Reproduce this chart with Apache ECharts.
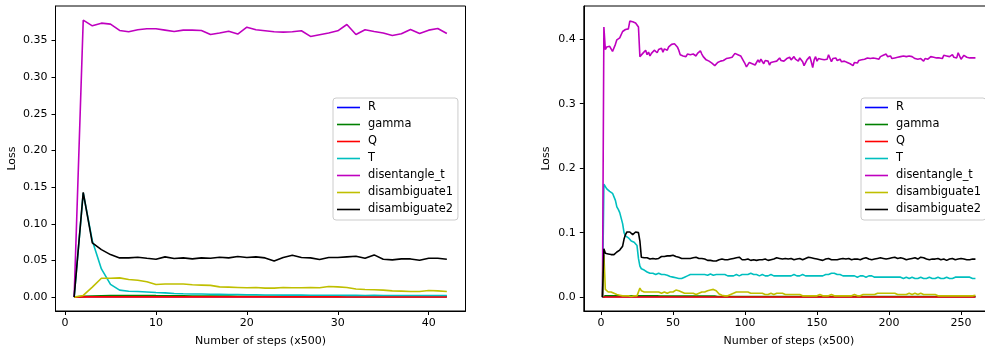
<!DOCTYPE html>
<html>
<head>
<meta charset="utf-8">
<script src="https://cdn.jsdelivr.net/npm/echarts@6/dist/echarts.min.js"></script>
<style>
  html, body { margin: 0; padding: 0; background: #fff; }
  #main { width: 985px; height: 350px; }
</style>
</head>
<body>
<div id="main"></div>
<script>
// series names / colours (matplotlib b g r c m y k)
var seriesNames = ['R', 'gamma', 'Q', 'T', 'disentangle_t', 'disambiguate1', 'disambiguate2'];
var seriesColors = ['#0000ff', '#008000', '#ff0000', '#00bfbf', '#bf00bf', '#bfbf00', '#000000'];

// tick values and labels
var leftXTicks = [0, 10, 20, 30, 40];
var leftXLabels = ['0', '10', '20', '30', '40'];
var leftYTicks = [0, 0.05, 0.10, 0.15, 0.20, 0.25, 0.30, 0.35];
var leftYLabels = ['0.00', '0.05', '0.10', '0.15', '0.20', '0.25', '0.30', '0.35'];
var rightXTicks = [0, 50, 100, 150, 200, 250];
var rightXLabels = ['0', '50', '100', '150', '200', '250'];
var rightYTicks = [0, 0.1, 0.2, 0.3, 0.4];
var rightYLabels = ['0.0', '0.1', '0.2', '0.3', '0.4'];

// left run, one value per step (x500), steps 1..42
var rLeft = [0, 0.0005, 0.0005, 0.0005, 0.0005, 0.0005, 0.0005, 0.0005, 0.0005, 0.0005, 0.0005, 0.0005, 0.0005, 0.0005, 0.0005, 0.0005, 0.0005, 0.0005, 0.0005, 0.0005, 0.0005, 0.0005, 0.0005, 0.0005, 0.0005, 0.0005, 0.0005, 0.0005, 0.0005, 0.0005, 0.0005, 0.0005, 0.0005, 0.0005, 0.0005, 0.0005, 0.0005, 0.0005, 0.0005, 0.0005, 0.0005, 0.0005];
var gammaLeft = [0, 0.001, 0.0015, 0.0018, 0.002, 0.0021, 0.0022, 0.0023, 0.0022, 0.002, 0.0019, 0.0018, 0.0017, 0.0016, 0.0015, 0.0015, 0.0014, 0.0014, 0.0013, 0.0013, 0.0012, 0.0012, 0.0011, 0.0011, 0.001, 0.001, 0.001, 0.001, 0.001, 0.001, 0.001, 0.001, 0.001, 0.001, 0.001, 0.001, 0.001, 0.001, 0.001, 0.001, 0.001, 0.001];
var qLeft = [0, 0.0003, 0.0003, 0.0003, 0.0003, 0.0003, 0.0003, 0.0003, 0.0003, 0.0003, 0.0003, 0.0003, 0.0003, 0.0003, 0.0003, 0.0003, 0.0003, 0.0003, 0.0003, 0.0003, 0.0003, 0.0003, 0.0003, 0.0003, 0.0003, 0.0003, 0.0003, 0.0003, 0.0003, 0.0003, 0.0003, 0.0003, 0.0003, 0.0003, 0.0003, 0.0003, 0.0003, 0.0003, 0.0003, 0.0003, 0.0003, 0.0003];
var tLeft = [0, 0.142, 0.077, 0.0385, 0.0175, 0.0095, 0.008, 0.0077, 0.007, 0.0063, 0.0058, 0.005, 0.0046, 0.0043, 0.0042, 0.004, 0.0038, 0.0036, 0.0035, 0.0033, 0.0032, 0.003, 0.0029, 0.0028, 0.0028, 0.0027, 0.0026, 0.0026, 0.0025, 0.0025, 0.0024, 0.0024, 0.0023, 0.0024, 0.0023, 0.0023, 0.0022, 0.0023, 0.0022, 0.0022, 0.0023, 0.0022];
var disLeft = [0, 0.3776, 0.3699, 0.3735, 0.3722, 0.3636, 0.3617, 0.3645, 0.3658, 0.3658, 0.364, 0.3622, 0.364, 0.364, 0.3636, 0.3581, 0.36, 0.3626, 0.3586, 0.368, 0.3645, 0.3631, 0.3617, 0.3613, 0.3617, 0.3631, 0.3554, 0.3577, 0.36, 0.3631, 0.3717, 0.3581, 0.3645, 0.3622, 0.36, 0.3568, 0.359, 0.3649, 0.3595, 0.364, 0.3663, 0.3595];
var d1Left = [0, 0.0023, 0.0136, 0.0258, 0.0258, 0.0263, 0.024, 0.0231, 0.0209, 0.0173, 0.018, 0.018, 0.018, 0.0168, 0.0164, 0.016, 0.014, 0.0136, 0.0132, 0.0127, 0.0132, 0.0123, 0.0123, 0.0132, 0.0127, 0.0127, 0.0132, 0.0127, 0.0145, 0.014, 0.0132, 0.011, 0.0104, 0.01, 0.0095, 0.0086, 0.0082, 0.0077, 0.0077, 0.0091, 0.0086, 0.0077];
var d2Left = [0, 0.1428, 0.0739, 0.0648, 0.058, 0.0535, 0.0535, 0.0544, 0.053, 0.0517, 0.0549, 0.0526, 0.0535, 0.0521, 0.0535, 0.053, 0.0544, 0.0535, 0.0553, 0.054, 0.0549, 0.0535, 0.0494, 0.054, 0.0571, 0.054, 0.0535, 0.0512, 0.054, 0.054, 0.0549, 0.0558, 0.053, 0.0576, 0.0517, 0.0508, 0.0521, 0.0521, 0.0503, 0.053, 0.053, 0.0517];

// right run, steps 1..260
var rRight = [
  0, 0.0005, 0.0005, 0.0005, 0.0005, 0.0005, 0.0005, 0.0005, 0.0005, 0.0005,
  0.0005, 0.0005, 0.0005, 0.0005, 0.0005, 0.0005, 0.0005, 0.0005, 0.0005, 0.0005,
  0.0005, 0.0005, 0.0005, 0.0005, 0.0005, 0.0005, 0.0005, 0.0005, 0.0005, 0.0005,
  0.0005, 0.0005, 0.0005, 0.0005, 0.0005, 0.0005, 0.0005, 0.0005, 0.0005, 0.0005,
  0.0005, 0.0005, 0.0005, 0.0005, 0.0005, 0.0005, 0.0005, 0.0005, 0.0005, 0.0005,
  0.0005, 0.0005, 0.0005, 0.0005, 0.0005, 0.0005, 0.0005, 0.0005, 0.0005, 0.0005,
  0.0005, 0.0005, 0.0005, 0.0005, 0.0005, 0.0005, 0.0005, 0.0005, 0.0005, 0.0005,
  0.0005, 0.0005, 0.0005, 0.0005, 0.0005, 0.0005, 0.0005, 0.0005, 0.0005, 0.0005,
  0.0005, 0.0005, 0.0005, 0.0005, 0.0005, 0.0005, 0.0005, 0.0005, 0.0005, 0.0005,
  0.0005, 0.0005, 0.0005, 0.0005, 0.0005, 0.0005, 0.0005, 0.0005, 0.0005, 0.0005,
  0.0005, 0.0005, 0.0005, 0.0005, 0.0005, 0.0005, 0.0005, 0.0005, 0.0005, 0.0005,
  0.0005, 0.0005, 0.0005, 0.0005, 0.0005, 0.0005, 0.0005, 0.0005, 0.0005, 0.0005,
  0.0005, 0.0005, 0.0005, 0.0005, 0.0005, 0.0005, 0.0005, 0.0005, 0.0005, 0.0005,
  0.0005, 0.0005, 0.0005, 0.0005, 0.0005, 0.0005, 0.0005, 0.0005, 0.0005, 0.0005,
  0.0005, 0.0005, 0.0005, 0.0005, 0.0005, 0.0005, 0.0005, 0.0005, 0.0005, 0.0005,
  0.0005, 0.0005, 0.0005, 0.0005, 0.0005, 0.0005, 0.0005, 0.0005, 0.0005, 0.0005,
  0.0005, 0.0005, 0.0005, 0.0005, 0.0005, 0.0005, 0.0005, 0.0005, 0.0005, 0.0005,
  0.0005, 0.0005, 0.0005, 0.0005, 0.0005, 0.0005, 0.0005, 0.0005, 0.0005, 0.0005,
  0.0005, 0.0005, 0.0005, 0.0005, 0.0005, 0.0005, 0.0005, 0.0005, 0.0005, 0.0005,
  0.0005, 0.0005, 0.0005, 0.0005, 0.0005, 0.0005, 0.0005, 0.0005, 0.0005, 0.0005,
  0.0005, 0.0005, 0.0005, 0.0005, 0.0005, 0.0005, 0.0005, 0.0005, 0.0005, 0.0005,
  0.0005, 0.0005, 0.0005, 0.0005, 0.0005, 0.0005, 0.0005, 0.0005, 0.0005, 0.0005,
  0.0005, 0.0005, 0.0005, 0.0005, 0.0005, 0.0005, 0.0005, 0.0005, 0.0005, 0.0005,
  0.0005, 0.0005, 0.0005, 0.0005, 0.0005, 0.0005, 0.0005, 0.0005, 0.0005, 0.0005,
  0.0005, 0.0005, 0.0005, 0.0005, 0.0005, 0.0005, 0.0005, 0.0005, 0.0005, 0.0005,
  0.0005, 0.0005, 0.0005, 0.0005, 0.0005, 0.0005, 0.0005, 0.0005, 0.0005, 0.0005
];
var gammaRight = [
  0, 0.003, 0.002, 0.002, 0.002, 0.002, 0.002, 0.002, 0.002, 0.002,
  0.002, 0.002, 0.002, 0.002, 0.002, 0.002, 0.002, 0.002, 0.002, 0.002,
  0.002, 0.002, 0.002, 0.002, 0.002, 0.002, 0.002, 0.002, 0.002, 0.002,
  0.002, 0.002, 0.002, 0.002, 0.002, 0.002, 0.002, 0.002, 0.002, 0.002,
  0.0015, 0.0015, 0.0015, 0.0015, 0.0015, 0.0015, 0.0015, 0.0015, 0.0015, 0.0015,
  0.0015, 0.0015, 0.0015, 0.0015, 0.0015, 0.0015, 0.0015, 0.0015, 0.0015, 0.0015,
  0.0015, 0.0015, 0.0015, 0.0015, 0.0015, 0.0015, 0.0015, 0.0015, 0.0015, 0.0015,
  0.0015, 0.0015, 0.0015, 0.0015, 0.0015, 0.0015, 0.0015, 0.0015, 0.0015, 0.0015,
  0.001, 0.001, 0.001, 0.001, 0.001, 0.001, 0.001, 0.001, 0.001, 0.001,
  0.001, 0.001, 0.001, 0.001, 0.001, 0.001, 0.001, 0.001, 0.001, 0.001,
  0.001, 0.001, 0.001, 0.001, 0.001, 0.001, 0.001, 0.001, 0.001, 0.001,
  0.001, 0.001, 0.001, 0.001, 0.001, 0.001, 0.001, 0.001, 0.001, 0.001,
  0.001, 0.001, 0.001, 0.001, 0.001, 0.001, 0.001, 0.001, 0.001, 0.001,
  0.001, 0.001, 0.001, 0.001, 0.001, 0.001, 0.001, 0.001, 0.001, 0.001,
  0.001, 0.001, 0.001, 0.001, 0.001, 0.001, 0.001, 0.001, 0.001, 0.001,
  0.001, 0.001, 0.001, 0.001, 0.001, 0.001, 0.001, 0.001, 0.001, 0.001,
  0.001, 0.001, 0.001, 0.001, 0.001, 0.001, 0.001, 0.001, 0.001, 0.001,
  0.001, 0.001, 0.001, 0.001, 0.001, 0.001, 0.001, 0.001, 0.001, 0.001,
  0.001, 0.001, 0.001, 0.001, 0.001, 0.001, 0.001, 0.001, 0.001, 0.001,
  0.001, 0.001, 0.001, 0.001, 0.001, 0.001, 0.001, 0.001, 0.001, 0.001,
  0.001, 0.001, 0.001, 0.001, 0.001, 0.001, 0.001, 0.001, 0.001, 0.001,
  0.001, 0.001, 0.001, 0.001, 0.001, 0.001, 0.001, 0.001, 0.001, 0.001,
  0.001, 0.001, 0.001, 0.001, 0.001, 0.001, 0.001, 0.001, 0.001, 0.001,
  0.001, 0.001, 0.001, 0.001, 0.001, 0.001, 0.001, 0.001, 0.001, 0.001,
  0.001, 0.001, 0.001, 0.001, 0.001, 0.001, 0.001, 0.001, 0.001, 0.001,
  0.001, 0.001, 0.001, 0.001, 0.001, 0.001, 0.001, 0.001, 0.001, 0.001
];
var qRight = [
  0, 0.0003, 0.0003, 0.0003, 0.0003, 0.0003, 0.0003, 0.0003, 0.0003, 0.0003,
  0.0003, 0.0003, 0.0003, 0.0003, 0.0003, 0.0003, 0.0003, 0.0003, 0.0003, 0.0003,
  0.0003, 0.0003, 0.0003, 0.0003, 0.0003, 0.0003, 0.0003, 0.0003, 0.0003, 0.0003,
  0.0003, 0.0003, 0.0003, 0.0003, 0.0003, 0.0003, 0.0003, 0.0003, 0.0003, 0.0003,
  0.0003, 0.0003, 0.0003, 0.0003, 0.0003, 0.0003, 0.0003, 0.0003, 0.0003, 0.0003,
  0.0003, 0.0003, 0.0003, 0.0003, 0.0003, 0.0003, 0.0003, 0.0003, 0.0003, 0.0003,
  0.0003, 0.0003, 0.0003, 0.0003, 0.0003, 0.0003, 0.0003, 0.0003, 0.0003, 0.0003,
  0.0003, 0.0003, 0.0003, 0.0003, 0.0003, 0.0003, 0.0003, 0.0003, 0.0003, 0.0003,
  0.0003, 0.0003, 0.0003, 0.0003, 0.0003, 0.0003, 0.0003, 0.0003, 0.0003, 0.0003,
  0.0003, 0.0003, 0.0003, 0.0003, 0.0003, 0.0003, 0.0003, 0.0003, 0.0003, 0.0003,
  0.0003, 0.0003, 0.0003, 0.0003, 0.0003, 0.0003, 0.0003, 0.0003, 0.0003, 0.0003,
  0.0003, 0.0003, 0.0003, 0.0003, 0.0003, 0.0003, 0.0003, 0.0003, 0.0003, 0.0003,
  0.0003, 0.0003, 0.0003, 0.0003, 0.0003, 0.0003, 0.0003, 0.0003, 0.0003, 0.0003,
  0.0003, 0.0003, 0.0003, 0.0003, 0.0003, 0.0003, 0.0003, 0.0003, 0.0003, 0.0003,
  0.0003, 0.0003, 0.0003, 0.0003, 0.0003, 0.0003, 0.0003, 0.0003, 0.0003, 0.0003,
  0.0003, 0.0003, 0.0003, 0.0003, 0.0003, 0.0003, 0.0003, 0.0003, 0.0003, 0.0003,
  0.0003, 0.0003, 0.0003, 0.0003, 0.0003, 0.0003, 0.0003, 0.0003, 0.0003, 0.0003,
  0.0003, 0.0003, 0.0003, 0.0003, 0.0003, 0.0003, 0.0003, 0.0003, 0.0003, 0.0003,
  0.0003, 0.0003, 0.0003, 0.0003, 0.0003, 0.0003, 0.0003, 0.0003, 0.0003, 0.0003,
  0.0003, 0.0003, 0.0003, 0.0003, 0.0003, 0.0003, 0.0003, 0.0003, 0.0003, 0.0003,
  0.0003, 0.0003, 0.0003, 0.0003, 0.0003, 0.0003, 0.0003, 0.0003, 0.0003, 0.0003,
  0.0003, 0.0003, 0.0003, 0.0003, 0.0003, 0.0003, 0.0003, 0.0003, 0.0003, 0.0003,
  0.0003, 0.0003, 0.0003, 0.0003, 0.0003, 0.0003, 0.0003, 0.0003, 0.0003, 0.0003,
  0.0003, 0.0003, 0.0003, 0.0003, 0.0003, 0.0003, 0.0003, 0.0003, 0.0003, 0.0003,
  0.0003, 0.0003, 0.0003, 0.0003, 0.0003, 0.0003, 0.0003, 0.0003, 0.0003, 0.0003,
  0.0003, 0.0003, 0.0003, 0.0003, 0.0003, 0.0003, 0.0003, 0.0003, 0.0003, 0.0003
];
var tRight = [
  0, 0.175, 0.172, 0.168, 0.166, 0.164, 0.162, 0.161, 0.160, 0.150,
  0.140, 0.136, 0.131, 0.128, 0.114, 0.100, 0.095, 0.093, 0.092, 0.090,
  0.087, 0.086, 0.085, 0.083, 0.080, 0.060, 0.048, 0.044, 0.043, 0.042,
  0.041, 0.039, 0.038, 0.037, 0.036, 0.037, 0.036, 0.035, 0.036, 0.037,
  0.036, 0.035, 0.036, 0.035, 0.034, 0.034, 0.033, 0.032, 0.032, 0.031,
  0.030, 0.030, 0.029, 0.029, 0.028, 0.029, 0.030, 0.031, 0.032, 0.033,
  0.034, 0.035, 0.036, 0.035, 0.036, 0.035, 0.034, 0.035, 0.036, 0.035,
  0.034, 0.035, 0.036, 0.034, 0.035, 0.036, 0.035, 0.034, 0.036, 0.035,
  0.036, 0.035, 0.036, 0.035, 0.034, 0.035, 0.034, 0.033, 0.034, 0.033,
  0.034, 0.033, 0.034, 0.035, 0.034, 0.033, 0.034, 0.035, 0.034, 0.035,
  0.036, 0.035, 0.036, 0.037, 0.036, 0.035, 0.034, 0.035, 0.034, 0.033,
  0.034, 0.035, 0.034, 0.033, 0.034, 0.033, 0.034, 0.035, 0.034, 0.033,
  0.034, 0.033, 0.032, 0.033, 0.034, 0.033, 0.032, 0.033, 0.032, 0.033,
  0.034, 0.033, 0.034, 0.035, 0.034, 0.033, 0.034, 0.033, 0.034, 0.035,
  0.034, 0.033, 0.032, 0.033, 0.032, 0.033, 0.032, 0.033, 0.034, 0.033,
  0.032, 0.033, 0.032, 0.033, 0.034, 0.035, 0.036, 0.035, 0.036, 0.037,
  0.036, 0.037, 0.036, 0.035, 0.034, 0.035, 0.034, 0.033, 0.034, 0.033,
  0.032, 0.033, 0.034, 0.033, 0.032, 0.033, 0.032, 0.031, 0.032, 0.033,
  0.032, 0.033, 0.032, 0.031, 0.032, 0.033, 0.034, 0.033, 0.032, 0.031,
  0.032, 0.031, 0.032, 0.031, 0.030, 0.031, 0.032, 0.031, 0.030, 0.031,
  0.030, 0.031, 0.030, 0.031, 0.032, 0.031, 0.030, 0.031, 0.030, 0.029,
  0.030, 0.031, 0.030, 0.029, 0.030, 0.031, 0.030, 0.029, 0.030, 0.029,
  0.030, 0.031, 0.030, 0.029, 0.030, 0.029, 0.030, 0.031, 0.030, 0.029,
  0.030, 0.029, 0.030, 0.031, 0.030, 0.029, 0.030, 0.029, 0.030, 0.031,
  0.030, 0.029, 0.030, 0.029, 0.030, 0.031, 0.030, 0.031, 0.032, 0.031,
  0.030, 0.031, 0.030, 0.031, 0.030, 0.031, 0.030, 0.029, 0.030, 0.029
];
var disRight = [
  0, 0.419, 0.384, 0.388, 0.386, 0.389, 0.388, 0.381, 0.379, 0.392,
  0.399, 0.396, 0.402, 0.405, 0.412, 0.414, 0.415, 0.417, 0.416, 0.428,
  0.429, 0.427, 0.428, 0.425, 0.426, 0.419, 0.373, 0.372, 0.378, 0.375,
  0.383, 0.376, 0.380, 0.374, 0.378, 0.376, 0.383, 0.386, 0.379, 0.384,
  0.382, 0.386, 0.380, 0.385, 0.386, 0.383, 0.388, 0.390, 0.392, 0.391,
  0.393, 0.390, 0.388, 0.383, 0.376, 0.378, 0.374, 0.376, 0.373, 0.377,
  0.375, 0.376, 0.374, 0.377, 0.376, 0.374, 0.378, 0.381, 0.382, 0.377,
  0.373, 0.370, 0.368, 0.369, 0.366, 0.367, 0.363, 0.364, 0.359, 0.361,
  0.364, 0.362, 0.366, 0.365, 0.367, 0.366, 0.370, 0.368, 0.371, 0.373,
  0.372, 0.375, 0.378, 0.380, 0.376, 0.377, 0.374, 0.372, 0.366, 0.362,
  0.357, 0.360, 0.364, 0.367, 0.362, 0.365, 0.360, 0.363, 0.368, 0.364,
  0.369, 0.366, 0.362, 0.367, 0.364, 0.366, 0.360, 0.364, 0.367, 0.365,
  0.368, 0.366, 0.369, 0.371, 0.367, 0.370, 0.366, 0.368, 0.370, 0.367,
  0.372, 0.368, 0.371, 0.373, 0.369, 0.370, 0.366, 0.371, 0.368, 0.365,
  0.359, 0.362, 0.368, 0.366, 0.373, 0.365, 0.356, 0.368, 0.373, 0.366,
  0.370, 0.367, 0.369, 0.366, 0.368, 0.371, 0.369, 0.376, 0.375, 0.365,
  0.370, 0.368, 0.371, 0.367, 0.370, 0.369, 0.365, 0.368, 0.366, 0.369,
  0.364, 0.366, 0.362, 0.360, 0.359, 0.364, 0.366, 0.363, 0.367, 0.365,
  0.368, 0.366, 0.369, 0.367, 0.371, 0.368, 0.370, 0.368, 0.371, 0.369,
  0.370, 0.372, 0.369, 0.373, 0.371, 0.375, 0.372, 0.377, 0.373, 0.371,
  0.374, 0.370, 0.373, 0.371, 0.369, 0.372, 0.370, 0.373, 0.371, 0.374,
  0.372, 0.373, 0.370, 0.374, 0.371, 0.373, 0.372, 0.370, 0.371, 0.369,
  0.372, 0.370, 0.368, 0.366, 0.370, 0.372, 0.369, 0.371, 0.373, 0.370,
  0.372, 0.374, 0.371, 0.369, 0.371, 0.373, 0.370, 0.375, 0.372, 0.374,
  0.371, 0.373, 0.370, 0.376, 0.372, 0.375, 0.371, 0.379, 0.374, 0.369,
  0.372, 0.375, 0.373, 0.372, 0.374, 0.371, 0.373, 0.371, 0.372, 0.371
];
var d1Right = [
  0, 0.066, 0.012, 0.009, 0.008, 0.007, 0.008, 0.007, 0.006, 0.005,
  0.004, 0.004, 0.003, 0.003, 0.002, 0.002, 0.002, 0.003, 0.002, 0.002,
  0.001, 0.002, 0.002, 0.003, 0.002, 0.003, 0.014, 0.010, 0.008, 0.008,
  0.007, 0.008, 0.007, 0.008, 0.009, 0.008, 0.007, 0.008, 0.007, 0.008,
  0.007, 0.006, 0.007, 0.008, 0.007, 0.006, 0.007, 0.008, 0.007, 0.008,
  0.009, 0.011, 0.012, 0.010, 0.009, 0.008, 0.007, 0.006, 0.007, 0.006,
  0.005, 0.006, 0.005, 0.006, 0.005, 0.004, 0.005, 0.006, 0.007, 0.008,
  0.009, 0.008, 0.009, 0.010, 0.009, 0.011, 0.010, 0.012, 0.011, 0.010,
  0.008, 0.005, 0.004, 0.003, 0.003, 0.002, 0.003, 0.002, 0.003, 0.004,
  0.005, 0.006, 0.007, 0.008, 0.009, 0.008, 0.009, 0.008, 0.007, 0.008,
  0.007, 0.008, 0.007, 0.006, 0.007, 0.006, 0.005, 0.006, 0.005, 0.006,
  0.005, 0.006, 0.005, 0.004, 0.005, 0.004, 0.005, 0.006, 0.005, 0.004,
  0.005, 0.006, 0.005, 0.006, 0.007, 0.006, 0.005, 0.004, 0.005, 0.004,
  0.005, 0.004, 0.003, 0.004, 0.003, 0.004, 0.003, 0.004, 0.003, 0.002,
  0.003, 0.002, 0.003, 0.002, 0.003, 0.002, 0.003, 0.002, 0.003, 0.002,
  0.003, 0.004, 0.003, 0.002, 0.003, 0.002, 0.003, 0.002, 0.003, 0.004,
  0.003, 0.002, 0.003, 0.002, 0.003, 0.002, 0.003, 0.002, 0.003, 0.002,
  0.003, 0.002, 0.003, 0.002, 0.003, 0.004, 0.003, 0.002, 0.003, 0.002,
  0.003, 0.004, 0.003, 0.004, 0.005, 0.004, 0.005, 0.004, 0.005, 0.004,
  0.005, 0.006, 0.005, 0.006, 0.005, 0.006, 0.007, 0.006, 0.005, 0.006,
  0.005, 0.006, 0.005, 0.006, 0.005, 0.004, 0.005, 0.004, 0.005, 0.004,
  0.005, 0.004, 0.005, 0.006, 0.005, 0.004, 0.005, 0.006, 0.005, 0.004,
  0.005, 0.006, 0.005, 0.004, 0.005, 0.004, 0.003, 0.004, 0.003, 0.004,
  0.003, 0.004, 0.003, 0.002, 0.003, 0.002, 0.003, 0.002, 0.003, 0.002,
  0.003, 0.002, 0.003, 0.002, 0.003, 0.002, 0.003, 0.002, 0.003, 0.002,
  0.003, 0.002, 0.003, 0.002, 0.003, 0.002, 0.003, 0.002, 0.003, 0.003
];
var d2Right = [
  0, 0.075, 0.068, 0.067, 0.067, 0.068, 0.066, 0.067, 0.066, 0.068,
  0.070, 0.072, 0.073, 0.075, 0.079, 0.090, 0.097, 0.101, 0.102, 0.101,
  0.100, 0.097, 0.095, 0.101, 0.103, 0.100, 0.087, 0.062, 0.060, 0.061,
  0.060, 0.061, 0.062, 0.059, 0.061, 0.060, 0.062, 0.059, 0.061, 0.060,
  0.061, 0.063, 0.062, 0.063, 0.062, 0.064, 0.063, 0.064, 0.063, 0.065,
  0.064, 0.063, 0.064, 0.062, 0.061, 0.060, 0.061, 0.060, 0.059, 0.060,
  0.061, 0.060, 0.059, 0.061, 0.060, 0.062, 0.061, 0.060, 0.059, 0.060,
  0.058, 0.059, 0.058, 0.057, 0.058, 0.057, 0.058, 0.056, 0.057, 0.056,
  0.057, 0.058, 0.057, 0.059, 0.060, 0.058, 0.059, 0.058, 0.060, 0.059,
  0.058, 0.060, 0.059, 0.061, 0.060, 0.062, 0.059, 0.058, 0.057, 0.058,
  0.057, 0.059, 0.058, 0.057, 0.056, 0.058, 0.055, 0.057, 0.056, 0.058,
  0.057, 0.058, 0.057, 0.059, 0.058, 0.057, 0.059, 0.058, 0.060, 0.059,
  0.060, 0.061, 0.059, 0.060, 0.061, 0.059, 0.062, 0.060, 0.061, 0.059,
  0.058, 0.060, 0.059, 0.058, 0.060, 0.059, 0.058, 0.060, 0.059, 0.058,
  0.059, 0.060, 0.061, 0.062, 0.060, 0.061, 0.059, 0.060, 0.058, 0.059,
  0.060, 0.058, 0.059, 0.057, 0.058, 0.059, 0.058, 0.060, 0.059, 0.058,
  0.057, 0.058, 0.056, 0.058, 0.057, 0.059, 0.058, 0.060, 0.058, 0.059,
  0.058, 0.060, 0.059, 0.058, 0.060, 0.059, 0.061, 0.059, 0.060, 0.058,
  0.059, 0.060, 0.059, 0.061, 0.060, 0.059, 0.060, 0.058, 0.060, 0.059,
  0.058, 0.060, 0.059, 0.061, 0.059, 0.060, 0.058, 0.059, 0.061, 0.060,
  0.059, 0.061, 0.060, 0.062, 0.059, 0.060, 0.059, 0.061, 0.058, 0.060,
  0.059, 0.058, 0.060, 0.059, 0.058, 0.060, 0.059, 0.061, 0.060, 0.059,
  0.060, 0.062, 0.059, 0.061, 0.060, 0.059, 0.060, 0.058, 0.060, 0.059,
  0.060, 0.059, 0.058, 0.060, 0.059, 0.058, 0.060, 0.059, 0.058, 0.057,
  0.058, 0.059, 0.058, 0.060, 0.059, 0.058, 0.057, 0.059, 0.058, 0.060,
  0.058, 0.059, 0.057, 0.058, 0.059, 0.058, 0.061, 0.059, 0.058, 0.059
];

var leftRuns = [rLeft, gammaLeft, qLeft, tLeft, disLeft, d1Left, d2Left];
var rightRuns = [rRight, gammaRight, qRight, tRight, disRight, d1Right, d2Right];

var FONT = 'DejaVu Sans';
var FS = 11;

// step number is the 1-based position in the run
function toPoints(vals) {
    return vals.map(function(v, i) { return [i + 1, v]; });
}

// only the listed tick values get a label
function tickFormatter(ticks, labels) {
    return function(v) {
        for (var k = 0; k < ticks.length; k++) {
            if (Math.abs(ticks[k] - v) < 1e-9) return labels[k];
        }
        return '';
    };
}

function makeX(gridIndex, min, max, ticks, labels) {
    return {
        type: 'value', gridIndex: gridIndex, min: min, max: max,
        name: 'Number of steps (x500)', nameLocation: 'middle', nameGap: 25,
        nameTextStyle: { fontFamily: FONT, fontSize: FS, color: '#000' },
        axisLine: { show: true, onZero: false, lineStyle: { color: '#000', width: 1 } },
        axisTick: { show: true, customValues: ticks, length: 4, lineStyle: { color: '#000' } },
        axisLabel: {
            customValues: ticks, margin: 7, fontFamily: FONT, fontSize: FS, color: '#000',
            formatter: tickFormatter(ticks, labels)
        },
        splitLine: { show: false }
    };
}

function makeY(gridIndex, min, max, ticks, labels, gap) {
    return {
        type: 'value', gridIndex: gridIndex, min: min, max: max,
        name: 'Loss', nameLocation: 'middle', nameGap: gap,
        nameTextStyle: { fontFamily: FONT, fontSize: FS, color: '#000' },
        axisLine: { show: true, onZero: false, lineStyle: { color: '#000', width: 1 } },
        axisTick: { show: true, customValues: ticks, length: 4, lineStyle: { color: '#000' } },
        axisLabel: {
            customValues: ticks, margin: 8, fontFamily: FONT, fontSize: FS, color: '#000',
            formatter: tickFormatter(ticks, labels)
        },
        splitLine: { show: false }
    };
}

function makeLegend(left) {
    return {
        data: seriesNames, orient: 'vertical', left: left, top: 98,
        icon: 'rect', itemWidth: 23, itemHeight: 1.6, itemGap: 4,
        padding: [3, 5, 4, 4],
        backgroundColor: 'rgba(255,255,255,0.8)', borderColor: '#cccccc', borderWidth: 1, borderRadius: 3,
        selectedMode: false,
        textStyle: { fontFamily: FONT, fontSize: 11.4, lineHeight: 13, color: '#000', padding: [0, 0, 0, 3] }
    };
}

var series = [];
[leftRuns, rightRuns].forEach(function(runs, g) {
    runs.forEach(function(vals, i) {
        series.push({
            name: seriesNames[i], type: 'line', xAxisIndex: g, yAxisIndex: g,
            data: toPoints(vals), symbol: 'none', showSymbol: false,
            lineStyle: { color: seriesColors[i], width: 1.6 },
            itemStyle: { color: seriesColors[i] },
            z: 2 + i, animation: false
        });
    });
});

var chart = echarts.init(document.getElementById('main'), null, { renderer: 'canvas' });
chart.setOption({
    animation: false,
    backgroundColor: '#fff',
    textStyle: { fontFamily: FONT },
    grid: [
        { left: 55.5, top: 6, width: 410, height: 305, outerBoundsMode: 'none', show: true, borderColor: '#000', borderWidth: 1, backgroundColor: 'transparent' },
        { left: 583.8, top: 6, width: 410.3, height: 305, outerBoundsMode: 'none', show: true, borderColor: '#000', borderWidth: 1, backgroundColor: 'transparent' }
    ],
    xAxis: [makeX(0, -1.05, 44.05, leftXTicks, leftXLabels), makeX(1, -11.95, 272.95, rightXTicks, rightXLabels)],
    yAxis: [makeY(0, -0.0189, 0.3969, leftYTicks, leftYLabels, 38), makeY(1, -0.0215, 0.4515, rightYTicks, rightYLabels, 32)],
    legend: [makeLegend(333), makeLegend(861)],
    series: series
});
</script>
</body>
</html>
